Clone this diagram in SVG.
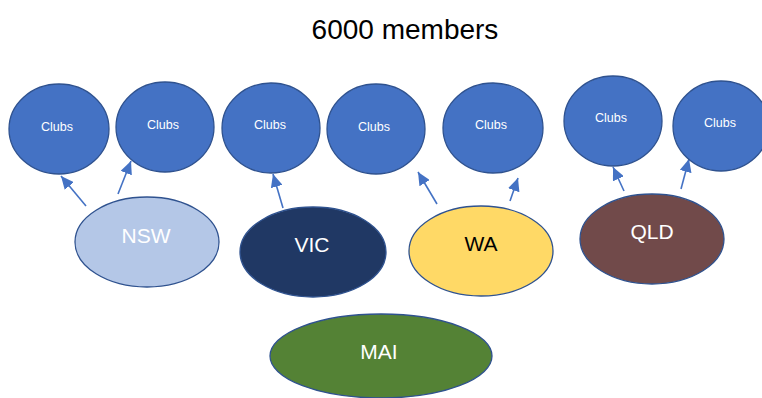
<svg xmlns="http://www.w3.org/2000/svg" width="762" height="398" viewBox="0 0 762 398">
  <style>
    .club { fill: #4472C4; stroke: #2F528F; stroke-width: 1.3; }
    .state { stroke: #2F528F; stroke-width: 1.3; }
    .lbl { font-family: "Liberation Sans", Arial, sans-serif; text-anchor: middle; }
    .clubtxt { font-size: 12.5px; fill: #FFFFFF; }
    .statetxt { font-size: 21px; }
    .link { stroke: #4472C4; stroke-width: 1.6; fill: none; marker-end: url(#head); }
  </style>
  <defs>
    <marker id="head" markerUnits="userSpaceOnUse" markerWidth="14" markerHeight="12" refX="13" refY="6" orient="auto">
      <path d="M0,0 L13,6 L0,12 Z" fill="#4472C4"/>
    </marker>
  </defs>

  <rect width="762" height="398" fill="#FFFFFF"/>

  <text class="lbl" x="405" y="39" font-size="28" fill="#000000">6000 members</text>

  <g id="connectors">
    <line class="link" x1="86" y1="206" x2="61" y2="176"/>
    <line class="link" x1="118" y1="194" x2="131" y2="161"/>
    <line class="link" x1="283" y1="208" x2="273" y2="174"/>
    <line class="link" x1="437" y1="204" x2="418" y2="172"/>
    <line class="link" x1="510" y1="201" x2="518" y2="178"/>
    <line class="link" x1="624" y1="191" x2="613" y2="167"/>
    <line class="link" x1="681" y1="189" x2="689" y2="159"/>
  </g>

  <g id="club1"><ellipse class="club" cx="59" cy="129" rx="50" ry="45"/><text class="lbl clubtxt" x="57" y="131">Clubs</text></g>
  <g id="club2"><ellipse class="club" cx="165" cy="127" rx="49" ry="45"/><text class="lbl clubtxt" x="163" y="129">Clubs</text></g>
  <g id="club3"><ellipse class="club" cx="271" cy="128" rx="49" ry="45"/><text class="lbl clubtxt" x="270" y="129">Clubs</text></g>
  <g id="club4"><ellipse class="club" cx="376" cy="129" rx="49" ry="45"/><text class="lbl clubtxt" x="374" y="131">Clubs</text></g>
  <g id="club5"><ellipse class="club" cx="493" cy="128" rx="50" ry="45"/><text class="lbl clubtxt" x="491" y="129">Clubs</text></g>
  <g id="club6"><ellipse class="club" cx="613" cy="121" rx="49" ry="45"/><text class="lbl clubtxt" x="611" y="122">Clubs</text></g>
  <g id="club7"><ellipse class="club" cx="721" cy="126" rx="48" ry="45"/><text class="lbl clubtxt" x="720" y="127">Clubs</text></g>

  <g id="nsw"><ellipse class="state" cx="147" cy="242" rx="72" ry="45" fill="#B4C7E7"/><text class="lbl statetxt" x="146" y="243" fill="#FFFFFF">NSW</text></g>
  <g id="vic"><ellipse class="state" cx="313" cy="252" rx="73" ry="45" fill="#203864"/><text class="lbl statetxt" x="312" y="252" fill="#FFFFFF">VIC</text></g>
  <g id="wa"><ellipse class="state" cx="481" cy="251" rx="72" ry="45" fill="#FFD966"/><text class="lbl statetxt" x="481" y="251" fill="#000000">WA</text></g>
  <g id="qld"><ellipse class="state" cx="652" cy="239" rx="72" ry="45" fill="#714A4A"/><text class="lbl statetxt" x="652" y="239" fill="#FFFFFF">QLD</text></g>
  <g id="mai"><ellipse class="state" cx="381" cy="356" rx="111" ry="42" fill="#548235"/><text class="lbl statetxt" x="379" y="359" fill="#FFFFFF">MAI</text></g>
</svg>
